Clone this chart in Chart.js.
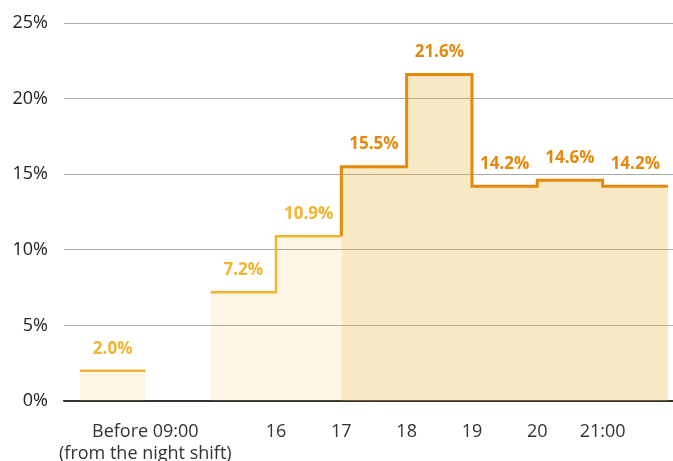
<!DOCTYPE html>
<html>
<head>
<meta charset="utf-8">
<script src="https://cdn.jsdelivr.net/npm/chart.js@4.4.1/dist/chart.umd.min.js"></script>
<style>
  html, body { margin: 0; padding: 0; background: #fff; }
  .chart-wrap { position: relative; width: 673px; height: 461px; }
</style>
</head>
<body>
<div class="chart-wrap"><canvas id="shareChart"></canvas></div>
<script>
// Share per time slot, one slot per hour; slot 1 is the empty gap
const slotValues = [2.0, null, 7.2, 10.9, 15.5, 21.6, 14.2, 14.6, 14.2];
// Slots from this index on belong to the evening group
const eveningStart = 4;
const tickPositions = [1, 3, 4, 5, 6, 7, 8];
const tickLabels = [['Before 09:00', '(from the night shift)'], '16', '17', '18', '19', '20', '21:00'];
const yTicks = [0, 5, 10, 15, 20, 25];

const YELLOW = '#f0b431';
const ORANGE = '#e5890c';
const FONT = "'Open Sans', sans-serif";

// Turn a run of slots into a step outline: flat top over each slot, vertical between
function stepPoints(from, to, startY) {
  const pts = [];
  if (startY != null) pts.push({ x: from, y: startY });
  for (let i = from; i < to; i++) {
    const v = slotValues[i];
    if (v == null) continue;
    pts.push({ x: i, y: v });
    pts.push({ x: i + 1, y: v });
  }
  return pts;
}

function stepDataset(points, line, fill, width) {
  return {
    data: points,
    borderColor: line,
    backgroundColor: fill,
    borderWidth: width,
    fill: 'origin',
    pointRadius: 0,
    tension: 0,
    borderJoinStyle: 'miter',
    borderCapStyle: 'butt'
  };
}

const lightFill = 'rgba(236,178,60,0.12)';
const darkFill = 'rgba(236,178,60,0.30)';

const datasets = [
  stepDataset(stepPoints(0, 1), YELLOW, lightFill, 2.5),
  stepDataset(stepPoints(2, eveningStart), YELLOW, lightFill, 2.5),
  stepDataset(stepPoints(eveningStart, slotValues.length, slotValues[eveningStart - 1]), ORANGE, darkFill, 3)
];

// Value labels above each slot
const valueLabels = {
  id: 'valueLabels',
  afterDatasetsDraw(chart) {
    const { ctx, scales: { x, y } } = chart;
    ctx.save();
    ctx.font = 'bold 17px ' + FONT;
    ctx.textAlign = 'center';
    ctx.textBaseline = 'middle';
    slotValues.forEach((v, i) => {
      if (v == null) return;
      ctx.fillStyle = i >= eveningStart ? ORANGE : YELLOW;
      ctx.fillText(v.toFixed(1) + '%', x.getPixelForValue(i + 0.5), y.getPixelForValue(v) - 22);
    });
    ctx.restore();
  }
};

new Chart(document.getElementById('shareChart'), {
  type: 'line',
  data: { datasets },
  options: {
    responsive: true,
    maintainAspectRatio: false,
    animation: false,
    layout: { padding: { top: 23, right: 0, left: 0, bottom: 0 } },
    plugins: { legend: { display: false }, tooltip: { enabled: false } },
    scales: {
      x: {
        type: 'linear',
        min: -0.245,
        max: 9.077,
        afterBuildTicks: axis => { axis.ticks = tickPositions.map(v => ({ value: v })); },
        afterFit: axis => {
          axis.height = 60;
          axis.paddingLeft = 0;
          axis.paddingRight = 0;
        },
        grid: { display: false, drawTicks: false },
        border: { display: true, color: '#333', width: 1.5 },
        ticks: {
          autoSkip: false,
          maxRotation: 0,
          padding: 20,
          color: '#333',
          font: { family: FONT, size: 18, lineHeight: 1.2 },
          callback: value => tickLabels[tickPositions.indexOf(value)]
        }
      },
      y: {
        min: 0,
        max: 25,
        afterBuildTicks: axis => { axis.ticks = yTicks.map(v => ({ value: v })); },
        afterFit: axis => {
          axis.width = 64;
          axis.paddingTop = 0;
          axis.paddingBottom = 0;
        },
        border: { display: false },
        grid: {
          color: ctx => ctx.tick.value === 0 ? '#333' : '#aaaaaa',
          lineWidth: 1,
          drawTicks: false
        },
        ticks: {
          padding: 16,
          color: '#222',
          font: { family: FONT, size: 18 },
          callback: v => v + '%'
        }
      }
    }
  },
  plugins: [valueLabels]
});
</script>
</body>
</html>
